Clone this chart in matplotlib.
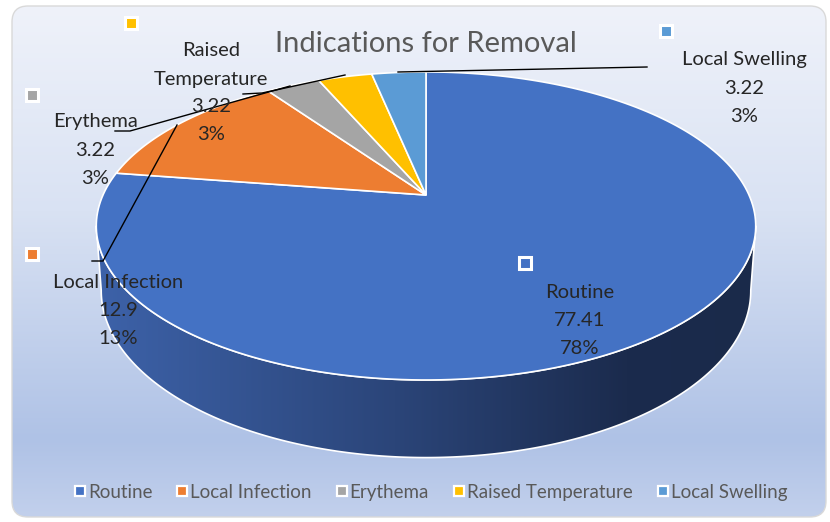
"""
Indications for Removal - Excel style 3D pie
"""
import numpy as np
import matplotlib.pyplot as plt
from matplotlib.patches import FancyBboxPatch, Polygon
from matplotlib.colors import LinearSegmentedColormap
from matplotlib.lines import Line2D

plt.rcParams['font.family'] = ['Lato', 'DejaVu Sans']

categories = ['Routine', 'Local Infection', 'Erythema', 'Raised Temperature', 'Local Swelling']
values = [77.41, 12.9, 3.22, 3.22, 3.22]
pct_labels = ['78%', '13%', '3%', '3%', '3%']
colors = ['#4472C4', '#ED7D31', '#A5A5A5', '#FFC000', '#5B9BD5']

# label layout (pixel positions): text centre x, first line y, key marker x/y
label_pos = {
    'Routine': (580, 293, 525, 263),
    'Local Infection': (118, 283, 32, 254),
    'Erythema': (95, 122, 32, 95),
    'Raised Temperature': (211, 51, 131, 23),
    'Local Swelling': (744, 60, 666, 31),
}
label_lines = {
    'Raised Temperature': ['Raised', 'Temperature'],
}
leaders = {
    'Local Infection': [(92, 261), (103, 261), (177, 125)],
    'Erythema': [(115, 131), (130, 131), (290, 86)],
    'Raised Temperature': [(243, 94), (262, 93), (345, 75)],
    'Local Swelling': [(647, 67), (398, 72)],
}

# pie geometry (pixels)
CX, CY = 426, 195
RX, RY = 323, 147.8
K = 0.201
DEPTH = 62


def project(t, drop=0.0, shrink=1.0):
    z = np.sin(t)
    s = 1.0 / (1.0 + K * z)
    x = CX + RX * np.cos(t) * s * shrink
    y = CY - RY * z * s + drop * s
    return x, y


fig = plt.figure(figsize=(8.3, 5.22), dpi=100)
ax = fig.add_axes([0, 0, 1, 1])
ax.set_xlim(0, 830)
ax.set_ylim(522, 0)
ax.axis('off')

# chart area background
frame = FancyBboxPatch((12, 6), 814, 511, boxstyle='round,pad=0,rounding_size=16',
                       fc='none', ec='#D9D9D9', lw=1, zorder=1)
ax.add_patch(frame)
bg_cmap = LinearSegmentedColormap.from_list(
    'bg', [(0, '#EFF2FA'), (0.4, '#D9E2F3'), (0.85, '#AFC2E6'), (1, '#C2D0EC')])
bg = ax.imshow(np.linspace(0, 1, 256).reshape(-1, 1), cmap=bg_cmap, aspect='auto',
               extent=(12, 826, 517, 6), origin='upper', zorder=0)
bg.set_clip_path(frame)

# cylinder side (front, Routine)
ts = np.linspace(np.radians(-11.5), np.radians(-168.5), 300)
xt, yt = project(ts)
xb, yb = project(ts, drop=DEPTH, shrink=0.985)
side = Polygon(np.column_stack([np.r_[xt, xb[::-1]], np.r_[yt, yb[::-1]]]),
               fc='none', ec='white', lw=1.2, zorder=3)
ax.add_patch(side)
side_cmap = LinearSegmentedColormap.from_list(
    'side', [(0, '#3D62A9'), (0.45, '#2B4579'), (0.8, '#1B2B4D'), (1, '#1A2A4A')])
sd = ax.imshow(np.linspace(0, 1, 256).reshape(1, -1), cmap=side_cmap, aspect='auto',
               extent=(95, 760, 470, 200), zorder=2)
sd.set_clip_path(side)

# top face slices
total = sum(values)
t0 = np.pi / 2
for v, c in zip(values, colors):
    sweep = v / total * 2 * np.pi
    arc = np.linspace(t0, t0 - sweep, 200)
    x, y = project(arc)
    ax.add_patch(Polygon(np.column_stack([np.r_[CX, x], np.r_[CY, y]]),
                         fc=c, ec='white', lw=1.2, zorder=4))
    t0 -= sweep

# leader lines
for name, pts in leaders.items():
    px, py = zip(*pts)
    ax.plot(px, py, color='black', lw=1, zorder=5)

# data labels
for name, v, pct, c in zip(categories, values, pct_labels, colors):
    tx, ty, mx, my = label_pos[name]
    lines = label_lines.get(name, [name]) + [f'{v:g}', pct]
    for i, line in enumerate(lines):
        ax.text(tx, ty + i * 28, line, ha='center', va='center', fontsize=14.5,
                color='#262626', zorder=6)
    ax.plot(mx, my, marker='s', ms=8, mfc=c, mec='white', mew=2.2, zorder=6)

ax.text(426, 44, 'Indications for Removal', ha='center', va='center',
        fontsize=21, color='#595959', zorder=6)

handles = [Line2D([], [], ls='none', marker='s', ms=7, mfc=c, mec='white', mew=1.6)
           for c in colors]
ax.legend(handles, categories, loc='center', bbox_to_anchor=(0.519, 0.057), ncol=5,
          frameon=False, handlelength=0.6, handletextpad=0.12, columnspacing=1.3,
          labelcolor='#595959', prop={'size': 13.5})

ax.set_xlim(0, 830)
ax.set_ylim(522, 0)
fig.savefig('out.png', dpi=100)
plt.close()
